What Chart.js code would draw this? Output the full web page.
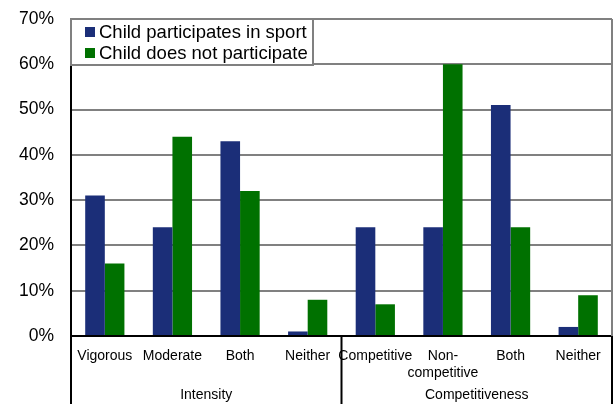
<!DOCTYPE html>
<html>
<head>
<meta charset="utf-8">
<script src="https://cdn.jsdelivr.net/npm/chart.js@4"></script>
<style>
  html, body { margin: 0; padding: 0; background: #fff; }
  #wrap { width: 615px; height: 404px; }
</style>
</head>
<body>
<div id="wrap"><canvas id="chart" width="615" height="404"></canvas></div>
<script>
// --- Data ---
const categories = ['Vigorous', 'Moderate', 'Both', 'Neither', 'Competitive', ['Non-', 'competitive'], 'Both', 'Neither'];
const groups = ['Intensity', 'Competitiveness'];
const groupSizes = [4, 4];
const participates = [31, 24, 43, 1, 24, 24, 51, 2];
const notParticipate = [16, 44, 32, 8, 7, 60, 24, 9];
const seriesNames = ['Child participates in sport', 'Child does not participate'];

const BLUE = '#1b2e78';
const GREEN = '#007100';
const FONT = '"Liberation Sans", Arial, sans-serif';

// Legend box + group labels + frame
const decorations = {
  id: 'decorations',
  afterDraw(chart) {
    const ctx = chart.ctx;
    const area = chart.chartArea;
    const x = chart.scales.x;
    ctx.save();

    // right border of plot
    ctx.strokeStyle = '#808080';
    ctx.lineWidth = 2;
    ctx.beginPath();
    ctx.moveTo(area.right, area.top);
    ctx.lineTo(area.right, area.bottom);
    ctx.stroke();

    // group separators and labels below the axis
    ctx.strokeStyle = '#000';
    ctx.lineWidth = 2;
    const h = chart.height;
    let start = 0;
    const step = x.getPixelForValue(1) - x.getPixelForValue(0);
    ctx.beginPath();
    ctx.moveTo(area.left, area.bottom);
    ctx.lineTo(area.left, h);
    ctx.stroke();
    ctx.fillStyle = '#000';
    ctx.font = '14px ' + FONT;
    ctx.textAlign = 'center';
    ctx.textBaseline = 'middle';
    groups.forEach((g, i) => {
      const end = start + groupSizes[i] - 1;
      const left = x.getPixelForValue(start) - step / 2;
      const right = x.getPixelForValue(end) + step / 2;
      ctx.beginPath();
      ctx.moveTo(right, area.bottom);
      ctx.lineTo(right, h);
      ctx.stroke();
      ctx.fillText(g, (left + right) / 2, 395);
      start = end + 1;
    });

    // legend box
    const lx = area.left, ly = area.top, lw = 242, lh = 46;
    ctx.fillStyle = '#fff';
    ctx.fillRect(lx, ly, lw, lh);
    ctx.strokeStyle = '#808080';
    ctx.lineWidth = 2;
    ctx.strokeRect(lx, ly, lw, lh);
    ctx.font = '18.5px ' + FONT;
    ctx.textAlign = 'left';
    ctx.textBaseline = 'middle';
    chart.data.datasets.forEach((ds, i) => {
      const cy = ly + 13 + i * 21;
      ctx.fillStyle = ds.backgroundColor;
      ctx.fillRect(lx + 14, cy - 5, 10, 10);
      ctx.fillStyle = '#000';
      ctx.fillText(ds.label, lx + 28, cy + 1);
    });
    ctx.restore();
  }
};

new Chart(document.getElementById('chart').getContext('2d'), {
  type: 'bar',
  data: {
    labels: categories,
    datasets: [
      { label: seriesNames[0], data: participates, backgroundColor: BLUE },
      { label: seriesNames[1], data: notParticipate, backgroundColor: GREEN }
    ]
  },
  options: {
    responsive: false,
    animation: false,
    layout: { padding: { top: 19, right: 3, left: 0, bottom: 0 } },
    datasets: { bar: { barPercentage: 1, categoryPercentage: 0.58 } },
    plugins: { legend: { display: false }, tooltip: { enabled: false } },
    scales: {
      x: {
        grid: { display: false, drawTicks: false },
        border: { color: '#000', width: 2 },
        ticks: {
          color: '#000',
          font: { family: FONT, size: 14 },
          padding: 12,
          maxRotation: 0,
          autoSkip: false
        },
        afterFit(scale) { scale.height = 68; }
      },
      y: {
        min: 0,
        max: 70,
        grid: { color: '#808080', lineWidth: 2, drawTicks: false },
        border: { color: '#000', width: 2 },
        ticks: {
          stepSize: 10,
          color: '#000',
          padding: 17,
          font: { family: FONT, size: 17.5 },
          callback: v => v + '%'
        },
        afterFit(scale) {
          scale.width = 71;
          scale.paddingTop = 0;
          scale.paddingBottom = 0;
        }
      }
    }
  },
  plugins: [decorations]
});
</script>
</body>
</html>
